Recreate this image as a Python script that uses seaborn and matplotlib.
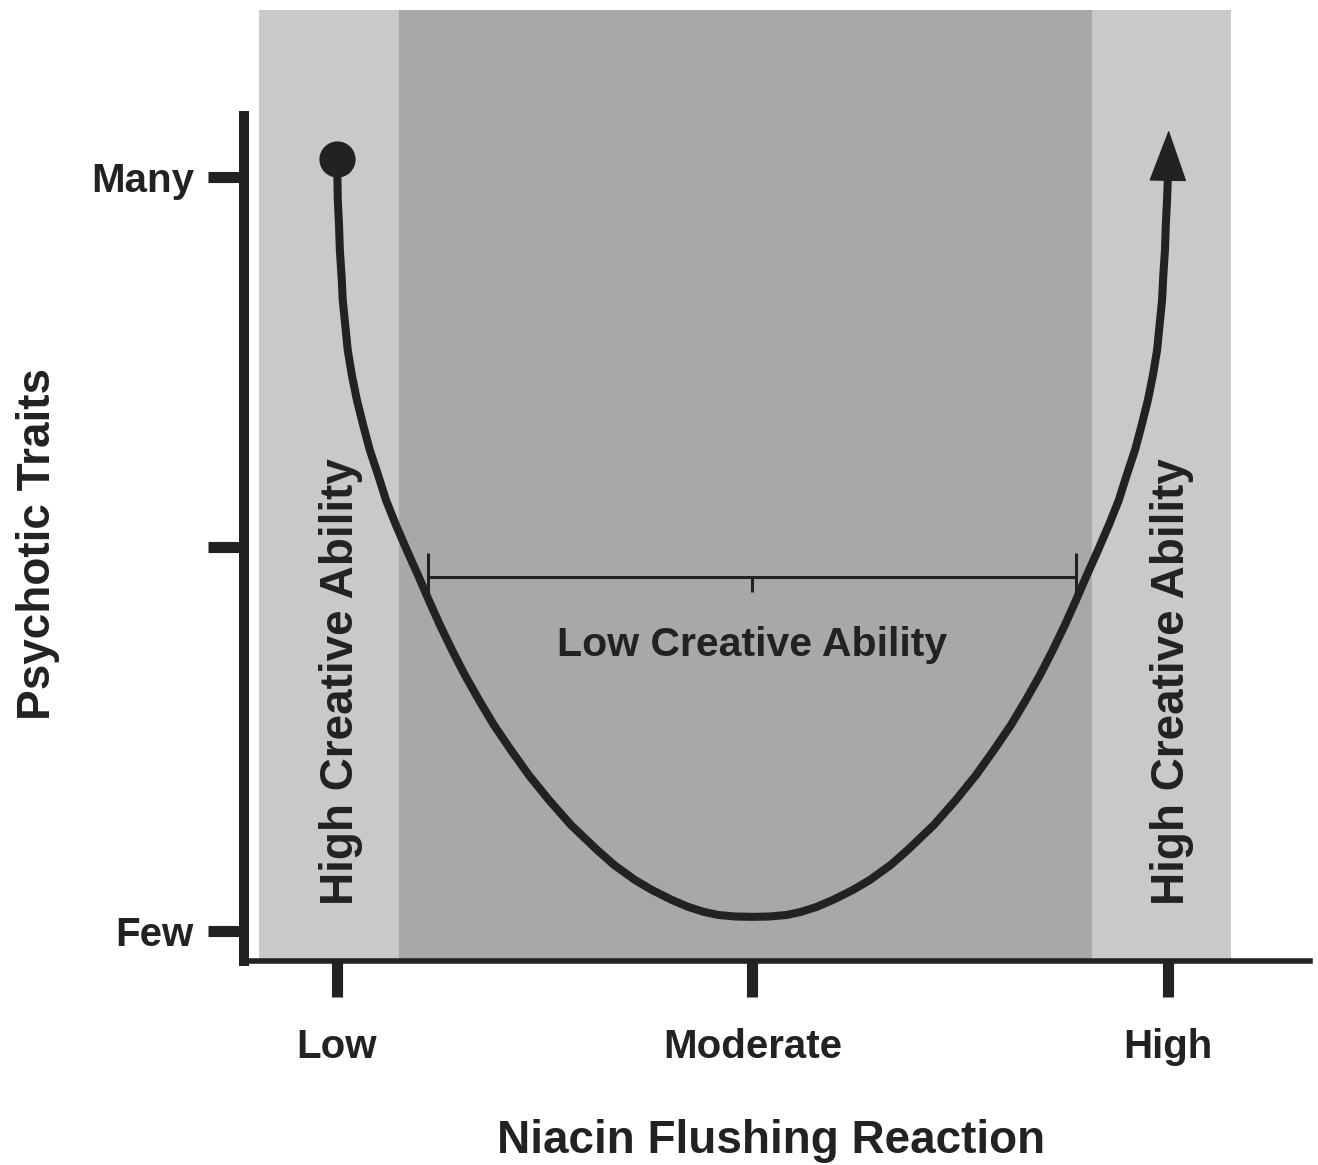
import pandas as pd
import matplotlib
matplotlib.use("Agg")
import matplotlib.pyplot as plt
import seaborn as sns

# U-shaped curve (x: flushing reaction, y: psychotic traits)
curve_x = [0.000, 0.001, 0.002, 0.005, 0.007, 0.011, 0.014, 0.020, 0.026, 0.036,
           0.048, 0.063, 0.079, 0.099, 0.118, 0.142, 0.168, 0.195, 0.221, 0.248,
           0.277, 0.308, 0.342, 0.378, 0.419, 0.462, 0.510, 0.563, 0.626, 0.667,
           0.717, 0.758, 0.806, 0.845, 0.883, 0.917, 0.958, 1.000,
           1.042, 1.083, 1.117, 1.155, 1.194, 1.242, 1.283, 1.333, 1.374, 1.437,
           1.490, 1.538, 1.581, 1.622, 1.658, 1.692, 1.723, 1.752, 1.779, 1.805,
           1.832, 1.858, 1.882, 1.901, 1.921, 1.937, 1.952, 1.964, 1.974, 1.980,
           1.986, 1.989, 1.993, 1.995, 1.998, 2.000, 2.002]
curve_y = [20.06, 19.65, 19.00, 18.35, 17.70, 17.05, 16.40, 15.75, 15.10, 14.45,
           13.81, 13.16, 12.51, 11.86, 11.21, 10.56, 9.91, 9.26, 8.61, 7.96,
           7.31, 6.66, 6.01, 5.36, 4.71, 4.06, 3.42, 2.77, 2.12, 1.73,
           1.34, 1.08, 0.82, 0.64, 0.51, 0.43, 0.39, 0.38,
           0.39, 0.43, 0.51, 0.64, 0.82, 1.08, 1.34, 1.73, 2.12, 2.77,
           3.42, 4.06, 4.71, 5.36, 6.01, 6.66, 7.31, 7.96, 8.61, 9.26,
           9.91, 10.56, 11.21, 11.86, 12.51, 13.16, 13.81, 14.45, 15.10, 15.75,
           16.40, 17.05, 17.70, 18.35, 19.00, 19.57, 20.82]

x_ticks = [0, 1, 2]
x_tick_labels = ["Low", "Moderate", "High"]
y_ticks = [0, 10, 19.6]
y_tick_labels = ["Few", "", "Many"]

# shaded bands on the x axis
outer_band = [-0.188, 2.152]
inner_band = [0.149, 1.817]

# "low creative ability" range bar
range_center = 1.0
range_half = 0.78
range_level = 9.21

INK = "#222222"

sns.set_theme(style="white")
plt.rcParams["font.family"] = ["Liberation Sans", "DejaVu Sans"]
plt.rcParams["font.weight"] = "bold"

df = pd.DataFrame({"x": curve_x, "y": curve_y})

fig = plt.figure(figsize=(13.18, 11.65), dpi=100)
ax = fig.add_axes([0.1851, 0.1747, 0.8088, 0.8167])

ax.axvspan(*outer_band, color="#c9c9c9", lw=0, zorder=0)
ax.axvspan(*inner_band, color="#a8a8a8", lw=0, zorder=0)

# curve without the final tip point, the arrow head covers that stretch
sns.lineplot(data=df.iloc[:-1], x="x", y="y", sort=False, estimator=None,
             color=INK, lw=5.8, ax=ax, zorder=3,
             solid_joinstyle="round", solid_capstyle="butt")
ax.scatter(df["x"].iloc[0], df["y"].iloc[0], s=680, color=INK, zorder=4, lw=0)
ax.annotate("", xy=(df["x"].iloc[-1], df["y"].iloc[-1]),
            xytext=(df["x"].iloc[-2], df["y"].iloc[-2]),
            arrowprops=dict(arrowstyle="-|>,head_length=3.46,head_width=1.26",
                            mutation_scale=10, color=INK, lw=1,
                            shrinkA=0, shrinkB=0), zorder=4)

ax.errorbar([range_center], [range_level], xerr=[range_half], fmt="none",
            ecolor=INK, elinewidth=2.2, capsize=17, capthick=2.2, zorder=3)
ax.plot([range_center], [range_level], marker=3, markersize=11, mew=2.2,
        color=INK, zorder=3)

ax.text(range_center, 7.44, "Low Creative Ability", fontsize=29.5,
        fontweight="bold", color=INK, ha="center", va="center")
ax.text(0.01, 6.5, "High Creative Ability", fontsize=33, fontweight="bold",
        color=INK, ha="center", va="center", rotation=90)
ax.text(2.01, 6.5, "High Creative Ability", fontsize=33, fontweight="bold",
        color=INK, ha="center", va="center", rotation=90)

ax.set_xlim(-0.2238, 2.342)
ax.set_ylim(-0.779, 23.94)
ax.set_xticks(x_ticks)
ax.set_xticklabels(x_tick_labels)
ax.set_yticks(y_ticks)
ax.set_yticklabels(y_tick_labels)
ax.tick_params(axis="both", bottom=True, left=True, length=26, width=8,
               color=INK, labelcolor=INK, labelsize=29, direction="out")
ax.tick_params(axis="x", pad=22)
ax.tick_params(axis="y", pad=10)
for lab in ax.get_xticklabels() + ax.get_yticklabels():
    lab.set_fontweight("bold")

for side in ["top", "right"]:
    ax.spines[side].set_visible(False)
ax.spines["left"].set_linewidth(7.2)
ax.spines["left"].set_color(INK)
ax.spines["left"].set_bounds(-0.779, 21.18)
ax.spines["bottom"].set_linewidth(4)
ax.spines["bottom"].set_color(INK)

ax.set_xlabel("Niacin Flushing Reaction", fontsize=33, fontweight="bold",
              color=INK, labelpad=38, x=0.4945)
ax.set_ylabel("Psychotic Traits", fontsize=33, fontweight="bold",
              color=INK, labelpad=22, y=0.439)

fig.savefig("out.png", dpi=100)
